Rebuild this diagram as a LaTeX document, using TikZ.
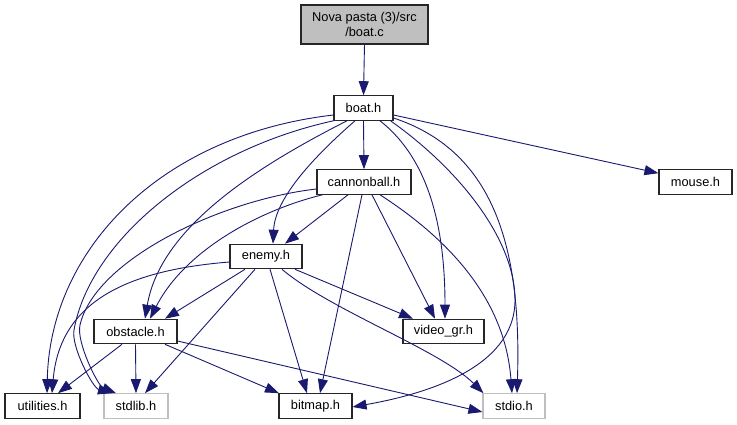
\documentclass[tikz,border=0pt]{standalone}
\usepackage{fontspec}
\setmainfont{Liberation Sans}
\usetikzlibrary{arrows.meta}
\definecolor{edgecol}{HTML}{191970}
\definecolor{lightbd}{HTML}{BFBFBF}
\tikzset{
  filebox/.style={draw=black!85, line width=1.1pt, fill=white, inner sep=0pt, minimum height=24.5pt, font=\fontsize{12.8}{14}\selectfont},
  sysbox/.style={filebox, draw=lightbd},
  rootbox/.style={filebox, fill=lightbd, align=center, font=\fontsize{12.8}{14.5}\selectfont},
  dep/.style={draw=edgecol, line width=0.9pt, -{Triangle[length=14pt,width=10pt]}},
}
\begin{document}
\begin{tikzpicture}[x=1pt,y=-1pt]
\useasboundingbox (0,0) rectangle (737,425);
% nodes
\node[rootbox, minimum width=127pt, minimum height=39pt] (boatc) at (364.5,24.5) {Nova pasta (3)/src\\/boat.c};
\node[filebox, minimum width=59pt] (boath) at (363.5,108) {boat.h};
\node[filebox, minimum width=94pt] (cannon) at (364,182) {cannonball.h};
\node[filebox, minimum width=73pt] (mouse) at (695.5,182) {mouse.h};
\node[filebox, minimum width=72pt] (enemy) at (266,256.5) {enemy.h};
\node[filebox, minimum width=83pt] (obstacle) at (135.5,331.5) {obstacle.h};
\node[filebox, minimum width=81pt] (videogr) at (443.5,331.5) {video\_gr.h};
\node[filebox, minimum width=75pt] (util) at (42.5,406) {utilities.h};
\node[sysbox, minimum width=64pt] (stdlib) at (136,406) {stdlib.h};
\node[filebox, minimum width=73pt] (bitmap) at (315.5,406) {bitmap.h};
\node[sysbox, minimum width=62pt] (stdio) at (514,406) {stdio.h};
% edges from boat.c
\draw[dep] (boatc.south) -- (boath.north);
% edges from boat.h
\draw[dep] (boath.south) -- (cannon.north);
\draw[dep] ([yshift=-7pt]boath.east) -- ([yshift=-4pt]mouse.north west);
\draw[dep] ([yshift=-7pt]boath.west) .. controls (160,135) and (50,250) .. ([xshift=4.5pt]util.north);
\draw[dep] (boath.south west) .. controls (200,150) and (90,240) .. (74,330) .. controls (71,347) and (93,388) .. ([xshift=-24pt]stdlib.north);
\draw[dep] ([xshift=-16.5pt]boath.south) .. controls (250,170) and (160,230) .. ([xshift=9.5pt]obstacle.north);
\draw[dep] ([xshift=-8.5pt]boath.south) .. controls (310,160) and (275,200) .. ([xshift=7pt]enemy.north);
\draw[dep] ([xshift=16.5pt]boath.south) .. controls (430,160) and (445,230) .. ([xshift=1.5pt]videogr.north);
\draw[dep] ([xshift=-3pt]boath.south east) .. controls (460,170) and (515,240) .. (515,300) .. controls (515,370) and (420,395) .. ([yshift=-1pt]bitmap.east);
\draw[dep] ([yshift=-10pt]boath.east) .. controls (490,150) and (522,240) .. ([xshift=3pt]stdio.north);
% edges from cannonball.h
\draw[dep] ([xshift=-16pt]cannon.south) -- ([xshift=19pt]enemy.north);
\draw[dep] ([xshift=6pt]cannon.south west) .. controls (260,210) and (185,250) .. ([xshift=14.5pt]obstacle.north);
\draw[dep] ([yshift=-7pt]cannon.west) .. controls (220,200) and (95,260) .. (80,325) .. controls (76,342) and (98,386) .. ([xshift=-20pt]stdlib.north);
\draw[dep] ([xshift=-2pt]cannon.south) -- ([xshift=4.5pt]bitmap.north);
\draw[dep] ([xshift=8pt]cannon.south) -- ([xshift=-8.5pt]videogr.north);
\draw[dep] ([xshift=16pt]cannon.south) .. controls (450,240) and (505,300) .. ([xshift=-2pt]stdio.north);
% edges from enemy.h
\draw[dep] ([yshift=-5.5pt]enemy.west) .. controls (130,270) and (60,300) .. ([xshift=9.5pt]util.north);
\draw[dep] ([xshift=-21pt]enemy.south) -- ([xshift=29.5pt]obstacle.north);
\draw[dep] ([xshift=-11pt]enemy.south) -- ([xshift=9pt]stdlib.north);
\draw[dep] ([xshift=4pt]enemy.south) -- ([xshift=-8.5pt]bitmap.north);
\draw[dep] ([xshift=29pt]enemy.south) -- ([xshift=-30.5pt]videogr.north);
\draw[dep] ([xshift=16pt]enemy.south) .. controls (330,310) and (440,350) .. ([xshift=1pt]stdio.north west);
% edges from obstacle.h
\draw[dep] ([xshift=-13.5pt]obstacle.south) -- ([xshift=15.5pt]util.north);
\draw[dep] (obstacle.south) -- (stdlib.north);
\draw[dep] ([xshift=29.5pt]obstacle.south) -- ([xshift=-36.5pt]bitmap.north);
\draw[dep] ([yshift=-9.5pt]obstacle.east) -- ([yshift=-6pt]stdio.west);
\end{tikzpicture}
\end{document}
